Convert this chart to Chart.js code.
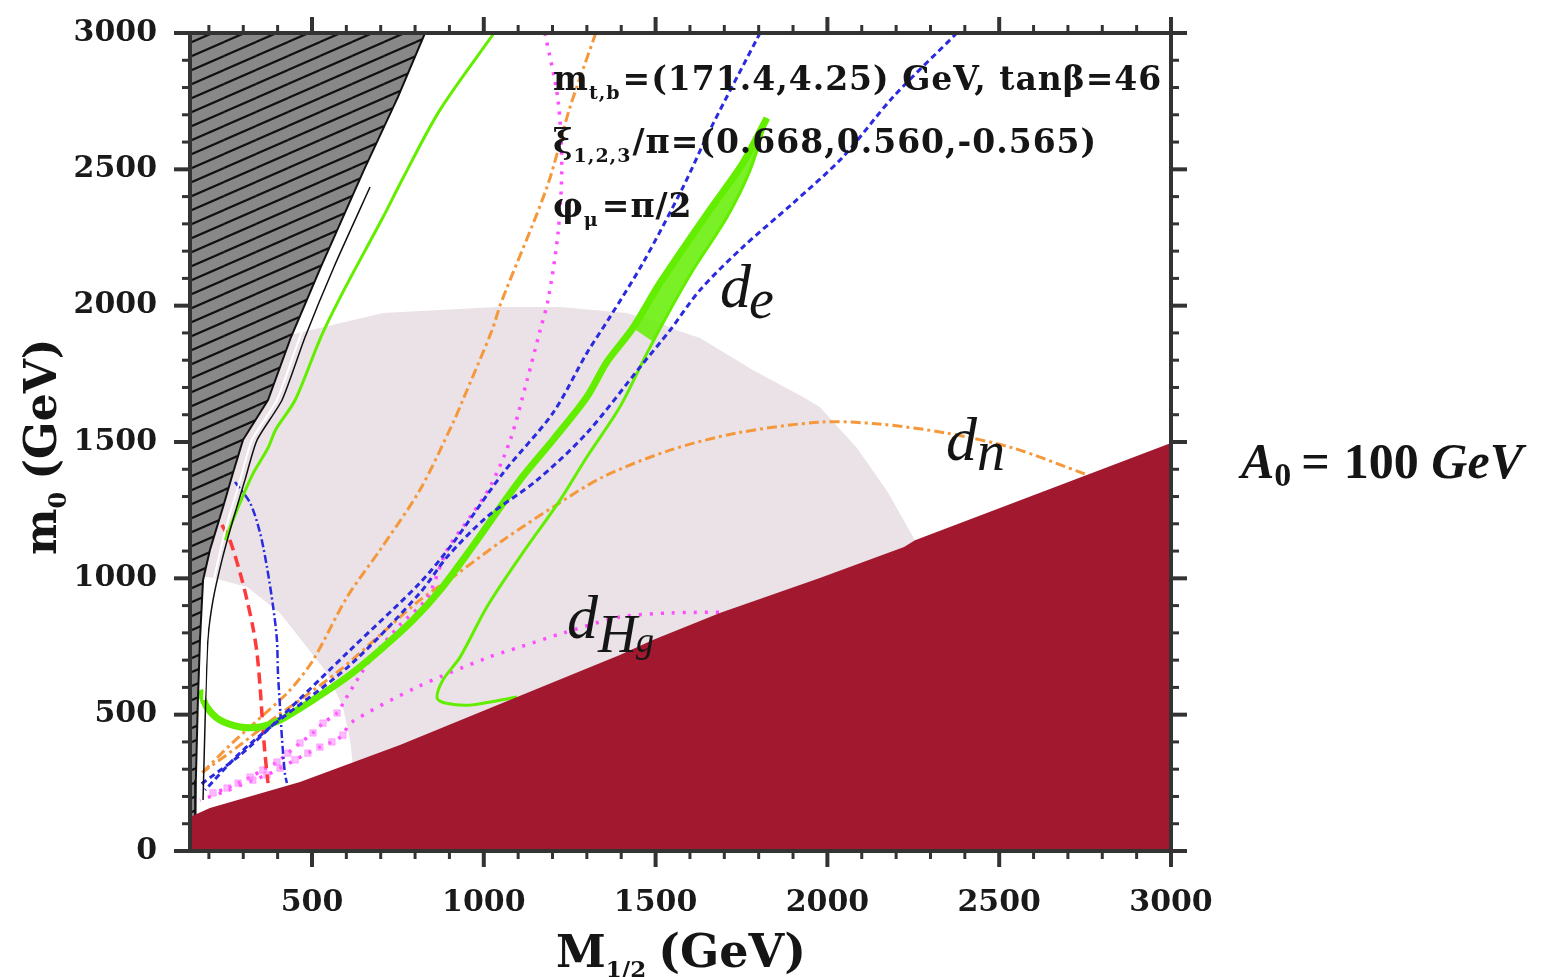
<!DOCTYPE html>
<html><head><meta charset="utf-8">
<script src="https://cdn.jsdelivr.net/npm/chart.js@4.4.0/dist/chart.umd.min.js"></script>
<style>html,body{margin:0;padding:0;background:#fff;}canvas{display:block;}</style>
</head><body>
<canvas id="c" width="1557" height="977" style="width:1557px;height:977px"></canvas>
<script>
// ---------- tick labels ----------
const xTickLabels = [500, 1000, 1500, 2000, 2500, 3000];
const yTickLabels = [0, 500, 1000, 1500, 2000, 2500, 3000];

// ---------- regions (M1/2, m0) ----------
const redRegionTop = [[145,125],[203,158],[465,253],[756,389],[1097,565],[1396,719],[1492,774],[1687,873],[1978,1001],[2223,1115],[2255,1140],[3000,1496]];
const pinkRegion = [[145,1012],[160,1012],[212,1001],[311,968],[407,873],[485,748],[544,653],[590,528],[611,407],[619,315],[640,200],[2300,200],[2300,1100],[2255,1140],[2176,1316],[2086,1478],[1978,1628],[1929,1665],[1783,1764],[1629,1881],[1562,1910],[1513,1936],[1417,1973],[1222,1995],[1038,1995],[707,1973],[436,1892],[145,1850]];
const hatchRegion = [[829,3000],[750,2765],[651,2497],[526,2142],[439,1885],[372,1654],[299,1507],[270,1386],[241,1261],[203,1104],[183,994],[174,774],[168,554],[162,260],[160,0],[145,0],[145,3000]];
const hatchEdgeWhite = [[657,2435],[552,2142],[465,1885],[398,1654],[325,1507],[291,1361],[256,1214],[227,1067],[203,920],[192,774],[186,554]];
const hatchEdgeBlack = [[669,2435],[564,2142],[480,1885],[413,1654],[340,1507],[305,1361],[270,1214],[238,1067],[212,920],[197,774],[189,480],[183,187]];

// ---------- curves ----------
const greenBand = [[174,590],[194,528],[232,480],[291,455],[349,455],[407,480],[503,554],[602,638],[698,737],[794,847],[873,957],[960,1104],[1105,1360],[1201,1507],[1300,1665],[1358,1793],[1434,1918],[1513,2083],[1658,2351],[1754,2523],[1824,2688]];
const greenLoop = [[1824,2688],[1775,2497],[1708,2325],[1609,2131],[1542,1984],[1475,1826],[1396,1628],[1300,1445],[1222,1287],[1105,1078],[1009,895],[931,711],[881,627],[864,561],[887,543],[960,535],[1097,565]];
const greenWedge = [[1434,1918],[1513,2083],[1658,2351],[1754,2523],[1824,2688],[1775,2497],[1708,2325],[1609,2131],[1542,1984],[1490,1870]];
const greenLeft = [[1030,3000],[872,2717],[762,2461],[707,2325],[593,2057],[526,1885],[451,1654],[395,1547],[372,1478],[328,1383],[282,1251],[247,1140]];
const blueDash1 = [[1804,3000],[1658,2644],[1580,2435],[1463,2156],[1367,1958],[1300,1826],[1201,1606],[1056,1386],[910,1129],[814,983],[611,737],[398,477],[291,352],[174,242]];
const blueDash2 = [[2377,3000],[2191,2765],[2045,2545],[1900,2376],[1754,2215],[1629,2057],[1542,1910],[1455,1775],[1300,1533],[1155,1360],[1009,1225],[893,1078],[814,946],[611,682],[398,473],[291,360],[189,224]];
const blueDashDot = [[276,1353],[320,1276],[349,1166],[369,1041],[387,895],[398,774],[401,653],[407,528],[413,407],[421,286],[427,249]];
const redDash = [[238,1196],[261,1140],[291,1019],[311,920],[328,821],[340,726],[349,601],[355,491],[363,359],[372,249]];
const orangeSteep = [[1326,3000],[1251,2728],[1184,2435],[1050,2010],[1024,1910],[939,1654],[910,1569],[814,1324],[698,1104],[602,931],[503,700],[436,590],[349,488],[262,389],[174,279]];
const orangeDn = [[2749,1383],[2540,1478],[2345,1533],[2150,1566],[1981,1573],[1737,1533],[1542,1470],[1347,1372],[1201,1261],[1056,1140],[910,1005],[814,920],[698,792],[582,664],[465,554],[398,495],[291,389],[183,290]];
const magentaSteep = [[1178,3000],[1216,2754],[1227,2508],[1216,2266],[1187,2020],[1164,1910],[1126,1727],[1077,1507],[1018,1335],[960,1225],[893,1104],[835,928],[756,829],[669,700],[596,554],[573,506],[532,469],[503,433],[465,396],[430,359],[398,326],[357,297],[320,271],[285,249],[253,231],[212,213]];
const magentaDHg = [[1716,876],[1542,873],[1396,858],[1230,799],[1105,748],[1009,708],[806,601],[611,469],[590,425],[558,400],[523,381],[488,359],[451,334],[407,304],[369,279],[328,260],[250,220],[174,187]];
const magentaSquaresUpper = [[573,506],[532,469],[503,433],[465,396],[430,359],[398,326],[357,297],[320,271],[285,249],[253,231],[212,213]];
const magentaSquaresLower = [[590,425],[558,400],[523,381],[488,359],[451,334],[407,304],[369,279],[328,260]];

// ---------- hatch pattern ----------
function makeHatch() {
  const W = 32, H = 14;
  const pc = document.createElement('canvas');
  pc.width = W; pc.height = H;
  const g = pc.getContext('2d');
  g.fillStyle = '#888'; g.fillRect(0, 0, W, H);
  g.strokeStyle = '#111'; g.lineWidth = 2.2;
  for (let k = -1; k <= 1; k++) {
    for (let j = -1; j <= 1; j++) {
      g.beginPath(); g.moveTo(k * W, H + j * H); g.lineTo((k + 1) * W, j * H); g.stroke();
    }
  }
  return g.createPattern(pc, 'repeat');
}

const xy = arr => arr.map(p => ({x: p[0], y: p[1]}));
function curve(arr, color, width, dash, order, tension) {
  return {data: xy(arr), showLine: true, borderColor: color, borderWidth: width, borderDash: dash || [],
    pointRadius: 0, fill: false, tension: tension === undefined ? 0.3 : tension, order: order, borderCapStyle: 'butt'};
}
function region(arr, color, fill, order) {
  return {data: xy(arr), showLine: true, borderWidth: 0, borderColor: 'rgba(0,0,0,0)', backgroundColor: color,
    pointRadius: 0, fill: fill, tension: 0, order: order};
}
function marks(arr, color, order) {
  return {data: xy(arr), showLine: false, pointStyle: 'rect', pointRadius: 4.5, borderWidth: 1,
    backgroundColor: color, borderColor: color, order: order};
}

const GREEN = '#63ee00', BLUE = '#2a2ae0', ORANGE = '#f5983c', MAGENTA = '#ff4cff', RED = '#ff3a3a';
const datasets = [
  region(pinkRegion, '#eae2e6', 'shape', 100),
  curve(orangeSteep, ORANGE, 3, [10, 4, 3, 4], 60),
  curve(orangeDn, ORANGE, 3, [10, 4, 3, 4], 60),
  marks(magentaSquaresUpper, 'rgba(255,120,255,0.5)', 59),
  marks(magentaSquaresLower, 'rgba(255,120,255,0.5)', 59),
  curve(magentaSteep, MAGENTA, 3.5, [3, 7], 59),
  curve(magentaDHg, MAGENTA, 3.5, [3, 8], 59),
  curve(redDash, RED, 3.5, [11, 6], 58),
  curve(blueDashDot, BLUE, 2.5, [8, 3, 2, 3], 57),
  region(greenWedge, 'rgba(99,238,0,0.85)', 'shape', 56),
  curve(greenBand, GREEN, 7, [], 55),
  curve(greenLoop, GREEN, 3, [], 55),
  curve(greenLeft, GREEN, 3, [], 55),
  curve(blueDash1, BLUE, 3, [6, 4], 54),
  curve(blueDash2, BLUE, 3, [6, 4], 54),
  region(hatchRegion, makeHatch(), 'shape', 20),
  curve(hatchRegion.slice(0, 15), '#111', 2, [], 19, 0),
  curve(hatchEdgeWhite, '#ffffff', 2, [], 18, 0.2),
  curve(hatchEdgeBlack, '#111', 1.5, [], 18, 0.2),
  region(redRegionTop, '#a2192f', 'start', 5)
];

// ---------- rich text helper ----------
function runs(ctx, x, y, parts) {
  let cx = x;
  for (const p of parts) {
    ctx.font = p.f;
    ctx.fillText(p.t, cx, y + (p.dy || 0));
    cx += ctx.measureText(p.t).width + (p.sp || 0);
  }
  return cx;
}
const SB = s => 'bold ' + s + 'px "DejaVu Serif"';
const IT = s => 'italic ' + s + 'px "Liberation Serif"';
const BI = s => 'italic bold ' + s + 'px "Liberation Serif"';
const LB = s => 'bold ' + s + 'px "Liberation Serif"';

const decor = {
  id: 'decor',
  afterDatasetsDraw(chart) {
    const {ctx, chartArea: a, scales: {x, y}} = chart;
    ctx.save();
    ctx.strokeStyle = '#333'; ctx.lineWidth = 4;
    ctx.strokeRect(a.left, a.top, a.right - a.left, a.bottom - a.top);
    const seg = (x1, y1, x2, y2) => { ctx.beginPath(); ctx.moveTo(x1, y1); ctx.lineTo(x2, y2); ctx.stroke(); };
    for (let v = 200; v <= 3000; v += 100) {
      const px = x.getPixelForValue(v), major = xTickLabels.includes(v), L = major ? 16 : 8;
      ctx.lineWidth = major ? 4 : 3;
      seg(px, a.bottom, px, a.bottom + L); seg(px, a.top, px, a.top - L);
    }
    for (let v = 0; v <= 3000; v += 100) {
      const py = y.getPixelForValue(v), major = yTickLabels.includes(v), L = major ? 16 : 8;
      ctx.lineWidth = major ? 4 : 3;
      seg(a.left, py, a.left - L, py); seg(a.right, py, a.right + L, py);
    }
    ctx.fillStyle = '#151515';
    ctx.textBaseline = 'alphabetic'; ctx.textAlign = 'left';
    ctx.letterSpacing = '1px';
    runs(ctx, 553, 90, [{t: 'm', f: SB(33)}, {t: 't,b', f: SB(19), dy: 9, sp: 2}, {t: '=(171.4,4.25) GeV, tan\u03b2=46', f: SB(33)}]);
    runs(ctx, 553, 153, [{t: '\u03be', f: SB(33)}, {t: '1,2,3', f: SB(19), dy: 9, sp: 1}, {t: '/\u03c0=(0.668,0.560,-0.565)', f: SB(33)}]);
    runs(ctx, 553, 217, [{t: '\u03c6', f: SB(33)}, {t: '\u03bc', f: SB(19), dy: 9, sp: 3}, {t: '=\u03c0/2', f: SB(33)}]);
    ctx.letterSpacing = '0px';
    runs(ctx, 720, 307, [{t: 'd', f: IT(62)}]);
    runs(ctx, 749, 318, [{t: 'e', f: IT(56)}]);
    runs(ctx, 946, 460, [{t: 'd', f: IT(62)}]);
    runs(ctx, 977, 470, [{t: 'n', f: IT(56)}]);
    runs(ctx, 567, 638, [{t: 'd', f: IT(62)}]);
    runs(ctx, 598, 652, [{t: 'H', f: IT(54)}]);
    runs(ctx, 636, 652, [{t: 'g', f: IT(36)}]);
    runs(ctx, 1241, 478, [{t: 'A', f: BI(50)}, {t: '0', f: LB(34), dy: 8, sp: 10}, {t: '=', f: LB(50), sp: 14}, {t: '100 ', f: LB(50)}, {t: 'GeV', f: BI(50)}]);
    runs(ctx, 556, 967, [{t: 'M', f: SB(45)}, {t: '1/2', f: SB(23), dy: 10, sp: 12}, {t: '(GeV)', f: SB(46)}]);
    ctx.translate(56, 555); ctx.rotate(-Math.PI / 2);
    runs(ctx, 0, 0, [{t: 'm', f: SB(44)}, {t: '0', f: SB(24), dy: 10, sp: 12}, {t: '(GeV)', f: SB(44)}]);
    ctx.restore();
  }
};

const tickFont = {family: 'DejaVu Serif', weight: 'bold', size: 30};
new Chart(document.getElementById('c'), {
  type: 'scatter',
  data: {datasets: datasets},
  options: {
    responsive: false, animation: false, events: [],
    layout: {padding: {left: 0, top: 33, right: 386, bottom: 0}},
    plugins: {legend: {display: false}, tooltip: {enabled: false}},
    scales: {
      x: {type: 'linear', min: 145, max: 3000, grid: {display: false, drawTicks: false}, border: {display: false},
        ticks: {stepSize: 100, includeBounds: false, autoSkip: false, maxRotation: 0, padding: 34, color: '#1a1a1a', font: tickFont,
          callback: v => xTickLabels.includes(v) ? String(v) : ''},
        afterFit: s => { s.height = 126; s.paddingLeft = 0; s.paddingRight = 0; }},
      y: {type: 'linear', min: 0, max: 3000, grid: {display: false, drawTicks: false}, border: {display: false},
        ticks: {stepSize: 100, includeBounds: false, autoSkip: false, padding: 33, color: '#1a1a1a', font: tickFont,
          callback: v => yTickLabels.includes(v) ? String(v) : ''},
        afterFit: s => { s.width = 190; s.paddingTop = 0; s.paddingBottom = 0; }}
    }
  },
  plugins: [decor]
});
</script>
</body></html>
